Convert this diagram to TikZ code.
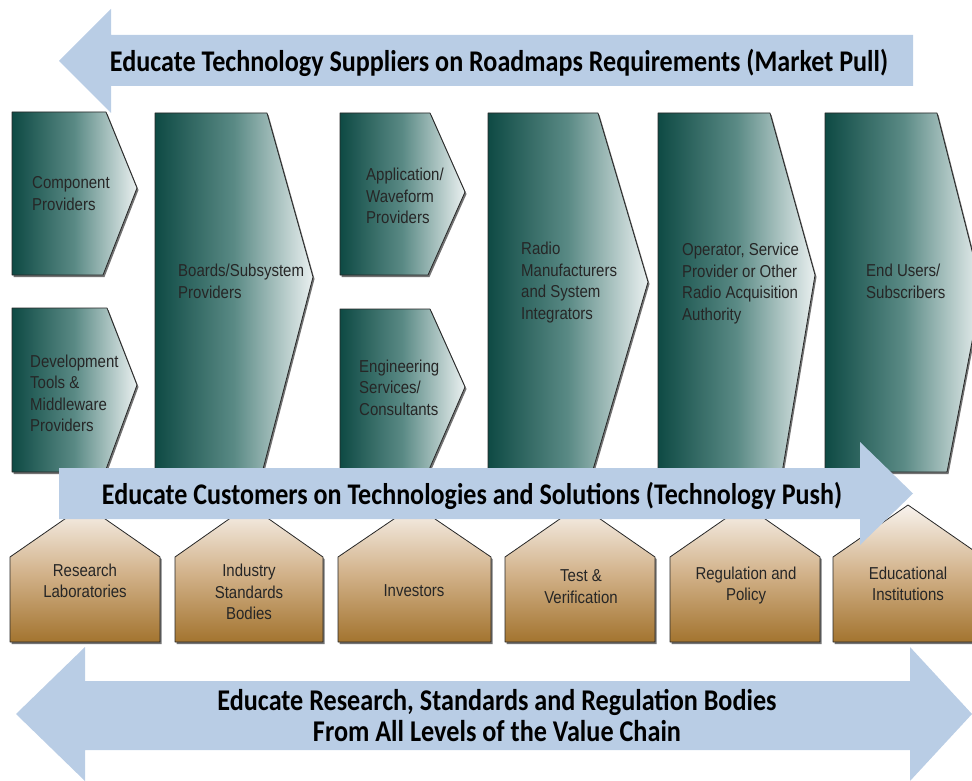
\documentclass[tikz,border=0pt]{standalone}
\usepackage{fontspec}
\setmainfont{Liberation Sans}
\newfontfamily\calfont{Carlito}
\usepackage{graphicx}
\definecolor{arrowblue}{HTML}{B9CDE5}
\definecolor{tealdark}{HTML}{0E4A44}
\definecolor{tealmid}{HTML}{5A8A85}
\definecolor{teallight}{HTML}{EAF0F0}
\definecolor{brtop}{HTML}{F8F3EE}
\definecolor{brmid}{HTML}{D2B28A}
\definecolor{brbot}{HTML}{A3742F}
\definecolor{txt}{HTML}{262626}
\newcommand{\boxlbl}[1]{\scalebox{1}[1.15]{\fontsize{15}{18.7}\selectfont\begin{tabular}{@{}l@{}}#1\end{tabular}}}
\newcommand{\houselbl}[1]{\scalebox{1}[1.15]{\fontsize{15}{18.7}\selectfont\begin{tabular}{@{}c@{}}#1\end{tabular}}}
\newcommand{\arrowtxt}[2]{\resizebox{#1}{!}{\scalebox{1}[1.15]{\calfont\bfseries #2}}}
\tikzset{
  bigarrow/.style={fill=arrowblue, draw=none},
  tealshape/.style={draw=black!85, line width=0.8pt, left color=tealdark, right color=teallight, middle color=tealmid, line join=round},
  houseshape/.style={draw=black!85, line width=0.8pt, top color=brtop, bottom color=brbot, middle color=brmid, line join=round},
  shadowshape/.style={fill=black!55, draw=none},
  boxtext/.style={inner sep=0pt, anchor=west, text=txt},
  housetext/.style={inner sep=0pt, anchor=center, text=txt},
  arrowlabel/.style={inner sep=0pt, anchor=base, text=black},
}
\newcommand{\tealbox}[7]{%
  \fill[shadowshape] (#1+1.5,#2+2) -- (#3+1.5,#2+2) -- (#4+1.5,#5+2) -- (#6+1.5,#7+2) -- (#1+1.5,#7+2) -- cycle;
  \path[tealshape] (#1,#2) -- (#3,#2) -- (#4,#5) -- (#6,#7) -- (#1,#7) -- cycle;}
\newcommand{\housebox}[2]{%
  \fill[shadowshape] (#1+1.5,557+2) -- ({(#1+#2)/2+1.5},505+2) -- (#2+1.5,557+2) -- (#2+1.5,642+2) -- (#1+1.5,642+2) -- cycle;
  \path[houseshape] (#1,557) -- ({(#1+#2)/2},505) -- (#2,557) -- (#2,642) -- (#1,642) -- cycle;}
\begin{document}
\begin{tikzpicture}[x=1pt,y=-1pt]
\useasboundingbox (0,0) rectangle (972,781);
\clip (0,0) rectangle (972,781);
% top arrow (market pull)
\path[bigarrow] (913,35) -- (111,35) -- (111,9) -- (59,61) -- (111,113) -- (111,86) -- (913,86) -- cycle;
\node[arrowlabel] (pull) at (499,72) {\arrowtxt{778pt}{Educate Technology Suppliers on Roadmaps Requirements (Market Pull)}};
% teal value chain boxes
\tealbox{12}{112}{106}{137}{188}{103}{275}
\tealbox{12}{308}{107}{137}{385}{105}{472}
\tealbox{155}{113}{267}{313}{277}{262}{473}
\tealbox{340}{113}{430}{465}{192}{428}{275}
\tealbox{340}{309}{430}{465}{387}{428}{472}
\tealbox{488}{113}{598}{648}{282}{592}{473}
\tealbox{658}{113}{770}{815}{275}{782}{473}
\tealbox{825}{113}{937}{982}{290}{947}{472}
\node[boxtext] (comp) at (32,195) {\boxlbl{Component\\Providers}};
\node[boxtext] (dev) at (30,395) {\boxlbl{Development\\Tools \&\\Middleware\\Providers}};
\node[boxtext] (boards) at (178,283) {\boxlbl{Boards/Subsystem\\Providers}};
\node[boxtext] (app) at (366,198) {\boxlbl{Application/\\Waveform\\Providers}};
\node[boxtext] (eng) at (359,389.5) {\boxlbl{Engineering\\Services/\\Consultants}};
\node[boxtext] (radio) at (521,282.5) {\boxlbl{Radio\\Manufacturers\\and System\\Integrators}};
\node[boxtext] (oper) at (682,283.5) {\boxlbl{Operator, Service\\Provider or Other\\Radio Acquisition\\Authority}};
\node[boxtext] (endu) at (866,283) {\boxlbl{End Users/\\Subscribers}};
% houses
\housebox{10}{160}
\housebox{175}{323}
\housebox{338}{491}
\housebox{505}{655}
\housebox{670}{820}
\housebox{833}{983}
\node[housetext] (lab) at (85,582.5) {\houselbl{Research\\Laboratories}};
\node[housetext] (std) at (249,594) {\houselbl{Industry\\Standards\\Bodies}};
\node[housetext] (inv) at (414,592) {\houselbl{Investors}};
\node[housetext] (test) at (581,588) {\houselbl{Test \&\\Verification}};
\node[housetext] (reg) at (746,585.5) {\houselbl{Regulation and\\Policy}};
\node[housetext] (edu) at (908,585.5) {\houselbl{Educational\\Institutions}};
% middle arrow (technology push)
\path[bigarrow] (59,468) -- (860,468) -- (860,442) -- (913,493.5) -- (860,545) -- (860,519) -- (59,519) -- cycle;
\node[arrowlabel] (push) at (472,504) {\arrowtxt{740pt}{Educate Customers on Technologies and Solutions (Technology Push)}};
% bottom double arrow
\path[bigarrow] (16,714) -- (85,647) -- (85,681) -- (910,681) -- (910,647) -- (972,714) -- (910,781) -- (910,750) -- (85,750) -- (85,781) -- cycle;
\node[arrowlabel] (bodies1) at (497,710) {\arrowtxt{559pt}{Educate Research, Standards and Regulation Bodies}};
\node[arrowlabel] (bodies2) at (497,741) {\arrowtxt{368pt}{From All Levels of the Value Chain}};
\end{tikzpicture}
\end{document}
